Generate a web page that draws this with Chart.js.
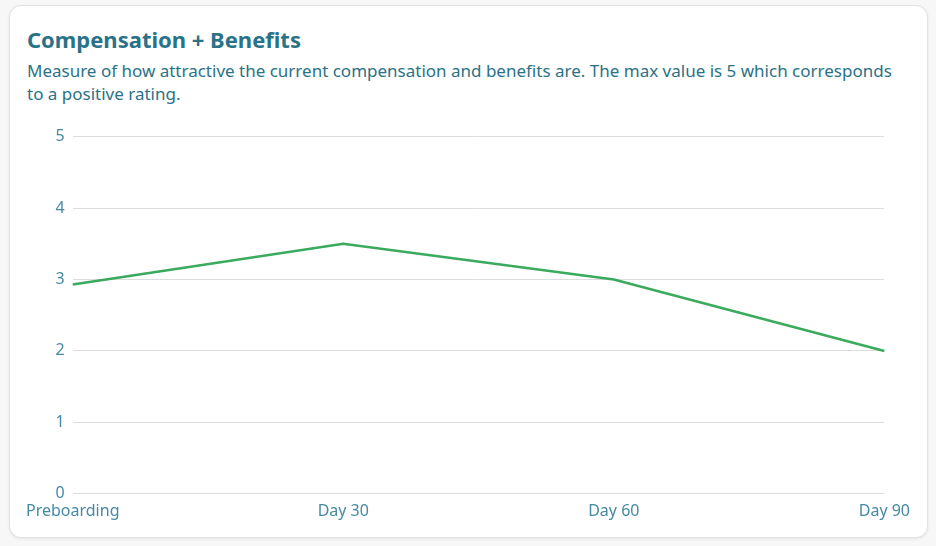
<!DOCTYPE html>
<html>
<head>
<meta charset="utf-8">
<script src="https://cdn.jsdelivr.net/npm/chart.js"></script>
<style>
  body { margin: 0; background: #f7f7f7; font-family: "Noto Sans", sans-serif; }
  .card {
    position: absolute; left: 9px; top: 5px; width: 917px; height: 531px;
    background: #fff; border: 1px solid #e2e2e2; border-radius: 12px;
    box-shadow: 0 1px 3px rgba(0,0,0,0.08);
  }
  h2 { position: absolute; left: 17px; top: 18px; margin: 0; font-size: 22px; font-weight: 700; color: #2a7287; }
  p { position: absolute; left: 17px; top: 53px; width: 882px; margin: 0; font-size: 17px; line-height: 23px; color: #2a7287; }
  .wrap { position: absolute; left: 16px; top: 113px; width: 884px; height: 402px; }
</style>
</head>
<body>
<div class="card">
  <h2>Compensation + Benefits</h2>
  <p>Measure of how attractive the current compensation and benefits are. The max value is 5 which corresponds to a positive rating.</p>
  <div class="wrap"><canvas id="myChart"></canvas></div>
</div>
<script>
const labels = ['Preboarding', 'Day 30', 'Day 60', 'Day 90'];
const scores = [2.93, 3.5, 3.0, 2.0];
const yTicks = [0, 1, 2, 3, 4, 5];

const ctx = document.getElementById('myChart').getContext('2d');
const tickFont = { family: 'Noto Sans', size: 16 };

new Chart(ctx, {
  type: 'line',
  data: {
    labels,
    datasets: [{
      data: scores,
      borderColor: '#3aaa5c',
      borderWidth: 2.5,
      pointRadius: 0,
      tension: 0,
      fill: false
    }]
  },
  options: {
    responsive: true,
    maintainAspectRatio: false,
    animation: false,
    layout: { padding: { left: 0, right: 0, top: 8, bottom: 0 } },
    plugins: { legend: { display: false }, tooltip: { enabled: false } },
    scales: {
      x: {
        offset: false,
        grid: { display: false },
        border: { display: false },
        ticks: { color: '#468aa2', font: tickFont, maxRotation: 0, padding: 0 }
      },
      y: {
        min: 0,
        max: 5,
        afterBuildTicks: (axis) => { axis.ticks = yTicks.map(v => ({ value: v })); },
        grid: { color: '#dddddd', drawTicks: false },
        border: { display: false },
        ticks: { color: '#468aa2', font: tickFont, padding: 8 }
      }
    }
  }
});
</script>
</body>
</html>
